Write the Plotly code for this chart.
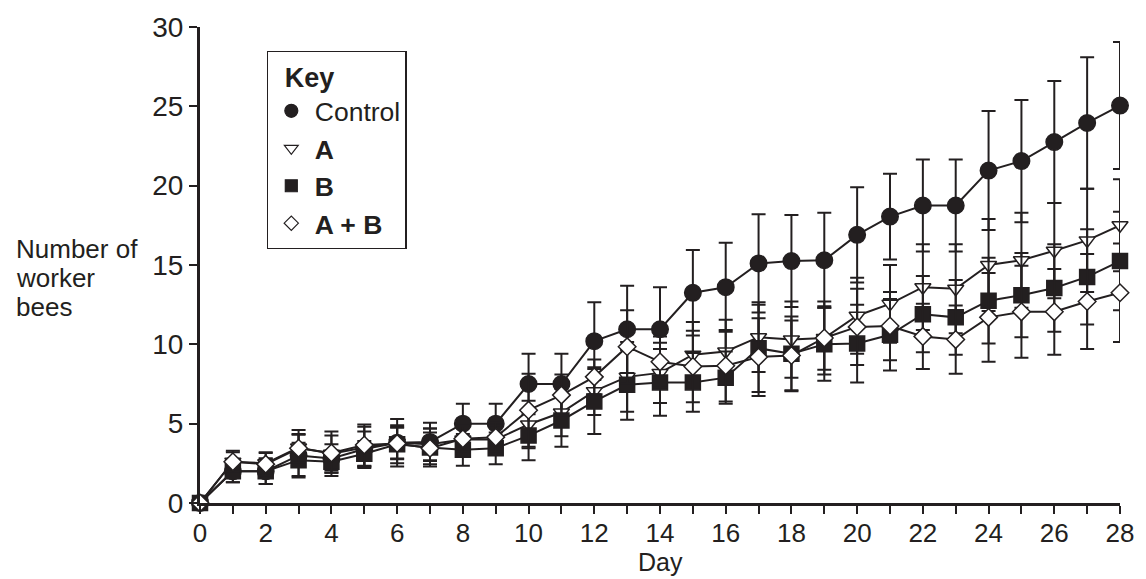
import plotly.graph_objects as go

days = list(range(29))

control = [0, 2.0, 2.0, 3.0, 2.8, 3.4, 3.8, 3.85, 5.0, 5.0, 7.5, 7.5, 10.2, 10.95, 10.95, 13.25, 13.6,
           15.1, 15.25, 15.3, 16.9, 18.05, 18.75, 18.75, 20.95, 21.55, 22.75, 23.95, 25.05]
control_err = [0, 0.7, 0.8, 1.3, 0.9, 1.1, 1.5, 1.2, 1.25, 1.25, 1.9, 1.9, 2.45, 2.75, 2.65, 2.7, 2.8,
               3.1, 2.9, 3.0, 3.0, 2.7, 2.9, 2.9, 3.75, 3.85, 3.85, 4.15, 4.0]

a_vals = [0, 2.6, 2.5, 3.5, 3.1, 3.5, 3.8, 3.7, 4.0, 4.0, 4.95, 5.7, 7.05, 7.95, 8.2, 9.35, 9.55,
          10.45, 10.3, 10.4, 11.8, 12.55, 13.6, 13.5, 15.0, 15.3, 15.9, 16.55, 17.5]
a_err = [0, 0.7, 0.7, 1.1, 1.4, 1.3, 1.0, 1.0, 0.9, 0.9, 1.5, 1.5, 1.5, 2.2, 1.9, 2.05, 2.0,
         2.2, 2.4, 2.0, 2.4, 2.45, 2.7, 2.8, 2.9, 3.0, 3.0, 3.25, 2.9]

b_vals = [0, 2.0, 2.0, 2.7, 2.6, 3.1, 3.7, 3.5, 3.35, 3.45, 4.25, 5.2, 6.4, 7.45, 7.6, 7.6, 7.9,
          9.75, 9.4, 10.0, 10.05, 10.6, 11.9, 11.7, 12.75, 13.1, 13.55, 14.25, 15.25]
b_err = [0, 0.7, 0.8, 1.1, 0.7, 0.8, 1.2, 1.2, 1.0, 1.0, 1.55, 1.65, 2.05, 2.2, 2.1, 1.85, 1.65,
         2.75, 2.35, 2.3, 2.45, 2.25, 2.4, 2.35, 2.7, 2.65, 2.75, 3.0, 3.1]

ab_vals = [0, 2.6, 2.45, 3.45, 3.15, 3.65, 3.75, 3.45, 4.05, 4.15, 5.85, 6.8, 7.95, 9.85, 8.9, 8.6, 8.65,
           9.2, 9.3, 10.4, 11.1, 11.15, 10.5, 10.3, 11.7, 12.05, 12.05, 12.7, 13.25]
ab_err = [0, 0.6, 0.7, 0.9, 1.1, 1.3, 1.0, 1.0, 0.8, 0.9, 2.3, 1.3, 1.1, 2.3, 1.6, 2.25, 2.25,
          2.45, 2.2, 2.3, 2.4, 2.15, 2.05, 2.15, 2.8, 2.9, 2.7, 3.0, 3.1]

series_names = ["Control", "<b>A</b>", "<b>B</b>", "<b>A + B</b>"]
x_ticks = list(range(0, 29))
x_ticktext = [str(d) if d % 2 == 0 else "" for d in x_ticks]
y_ticks = [0, 5, 10, 15, 20, 25, 30]
y_title_lines = ["Number of", "worker", "bees"]

INK = "#231f20"
FONT = "Liberation Sans, Arial, Helvetica, sans-serif"

styles = [
    dict(symbol="circle", size=16.5, color=INK, legsize=13),
    dict(symbol="triangle-down", size=14, color="white", legsize=12),
    dict(symbol="square", size=15, color=INK, legsize=12),
    dict(symbol="diamond", size=13.5, color="white", legsize=11),
]

data = [(control, control_err), (a_vals, a_err), (b_vals, b_err), (ab_vals, ab_err)]

fig = go.Figure()
for (vals, errs), st in zip(data, styles):
    fig.add_trace(go.Scatter(
        x=days, y=vals, mode="lines+markers", showlegend=False, cliponaxis=False,
        line=dict(color=INK, width=2),
        marker=dict(symbol=st["symbol"], size=st["size"], color=st["color"],
                    line=dict(color=INK, width=1.5)),
        error_y=dict(type="data", array=errs, visible=True, color=INK, thickness=2, width=7),
    ))

# legend-only traces (markers only, as in the key)
for st, name in zip(styles, series_names):
    fig.add_trace(go.Scatter(
        x=[None], y=[None], mode="markers", name=name, showlegend=True,
        marker=dict(symbol=st["symbol"], size=st["legsize"], color=st["color"],
                    line=dict(color=INK, width=1.2)),
    ))

title_y = [0.5343, 0.4730, 0.4116]
annotations = [
    dict(text="Day", xref="paper", yref="paper", x=0.5, y=-0.1247, xanchor="center", yanchor="middle",
         showarrow=False, font=dict(size=25, color=INK)),
]
for line, yy in zip(y_title_lines, title_y):
    annotations.append(dict(text=line, xref="paper", yref="paper", x=-0.2025, y=yy,
                            xanchor="left", yanchor="middle", showarrow=False,
                            font=dict(size=26, color=INK)))

fig.update_layout(
    width=1146, height=579,
    margin=dict(l=200, r=20, t=22, b=76),
    paper_bgcolor="white", plot_bgcolor="white",
    font=dict(family=FONT, size=28, color=INK),
    showlegend=True,
    legend=dict(
        x=0.0724, y=0.95, xanchor="left", yanchor="top",
        bordercolor=INK, borderwidth=1.2, bgcolor="white",
        font=dict(family=FONT, size=26.5, color=INK),
        title=dict(text="\u00a0\u00a0<b>Key</b>", font=dict(family=FONT, size=27, color=INK)),
        itemwidth=37, tracegroupgap=0,
    ),
    xaxis=dict(
        range=[0, 28], tickvals=x_ticks, ticktext=x_ticktext,
        showgrid=False, zeroline=False, showline=True, linecolor=INK, linewidth=3,
        ticks="outside", ticklen=8, tickwidth=1.5, tickcolor=INK,
        tickfont=dict(size=26, color=INK), ticklabelstandoff=-3,
    ),
    yaxis=dict(
        range=[0, 30], tickvals=y_ticks,
        showgrid=False, zeroline=False, showline=True, linecolor=INK, linewidth=3,
        ticks="outside", ticklen=8, tickwidth=1.5, tickcolor=INK,
        tickfont=dict(size=28, color=INK),
    ),
    annotations=annotations,
)

fig.write_html("out.html")
